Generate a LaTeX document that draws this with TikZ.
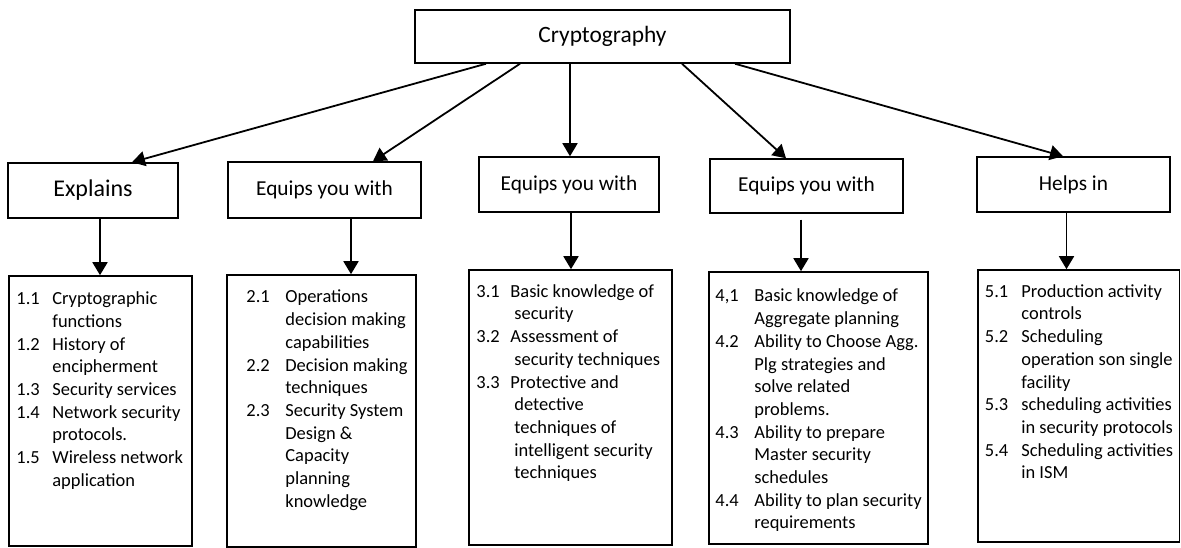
\documentclass[tikz,border=0pt]{standalone}
\usepackage{fontspec}
\setmainfont{Carlito}
\usepackage{tikz}
\usetikzlibrary{arrows.meta,calc}

\newcommand{\listfont}{\fontsize{18.45}{22.7}\selectfont}
\newcommand{\headfont}{\fontsize{21.3}{25}\selectfont}

\begin{document}
\begin{tikzpicture}[
  x=1pt, y=-1pt,
  topic/.style={rectangle, draw, line width=1.5pt, inner sep=0pt, font=\headfont},
  listbox/.style={rectangle, draw, line width=1.6pt, inner sep=0pt},
  listtext/.style={anchor=north west, inner sep=0pt, font=\listfont},
  >={Triangle[length=13pt, width=15pt]}
]
\useasboundingbox (0,0) rectangle (1181,548);

\node[topic, minimum width=375pt, minimum height=53pt, font=\fontsize{23.4}{28}\selectfont] (crypt) at (602.5,36.5) {Cryptography};

\node[topic, minimum width=170pt, minimum height=55pt, font=\fontsize{24}{29}\selectfont] (h1) at (93,190.5) {Explains};
\node[topic, minimum width=193pt, minimum height=56pt] (h2) at (324.5,190)   {Equips you with};
\node[topic, minimum width=180pt, minimum height=55pt] (h3) at (569,184.5)   {Equips you with};
\node[topic, minimum width=193pt, minimum height=54pt] (h4) at (806.5,186)   {Equips you with};
\node[topic, minimum width=193pt, minimum height=55pt] (h5) at (1073.5,184.5) {Helps in};

\node[listbox, minimum width=183pt,   minimum height=270pt] (l1) at (100.5,411)   {};
\node[listbox, minimum width=189pt,   minimum height=272pt] (l2) at (321.5,411)   {};
\node[listbox, minimum width=203pt,   minimum height=275pt] (l3) at (570.5,407.5) {};
\node[listbox, minimum width=219pt,   minimum height=272pt] (l4) at (818.5,408)   {};
\node[listbox, minimum width=201.5pt, minimum height=272pt] (l5) at (1078.75,406) {};

\node[listtext] (t1) at ($(l1.north west)+(8,13.5)$) {\begin{tabular}{@{}p{36pt}@{}l@{}}
1.1 & Cryptographic\\
    & functions\\
1.2 & History of\\
    & encipherment\\
1.3 & Security services\\
1.4 & Network security\\
    & protocols.\\
1.5 & Wireless network\\
    & application
\end{tabular}};
\node[listtext] (t2) at ($(l2.north west)+(20,12.7)$) {\begin{tabular}{@{}p{39pt}@{}l@{}}
2.1 & Operations\\
    & decision making\\
    & capabilities\\
2.2 & Decision making\\
    & techniques\\
2.3 & Security System\\
    & Design \&\\
    & Capacity\\
    & planning\\
    & knowledge
\end{tabular}};
\node[listtext] (t3) at ($(l3.north west)+(8,12)$) {\begin{tabular}{@{}p{34pt}@{}l@{}}
3.1 & Basic knowledge of\\
    & \hspace*{4pt}security\\
3.2 & Assessment of\\
    & \hspace*{4pt}security techniques\\
3.3 & Protective and\\
    & \hspace*{4pt}detective\\
    & \hspace*{4pt}techniques of\\
    & \hspace*{4pt}intelligent security\\
    & \hspace*{4pt}techniques
\end{tabular}};
\node[listtext] (t4) at ($(l4.north west)+(7,14.7)$) {\begin{tabular}{@{}p{39pt}@{}l@{}}
4,1 & Basic knowledge of\\
    & Aggregate planning\\
4.2 & Ability to Choose Agg.\\
    & Plg strategies and\\
    & solve related\\
    & problems.\\
4.3 & Ability to prepare\\
    & Master security\\
    & schedules\\
4.4 & Ability to plan security\\
    & requirements
\end{tabular}};
\node[listtext] (t5) at ($(l5.north west)+(7.5,12)$) {\begin{tabular}{@{}p{36.5pt}@{}l@{}}
5.1 & Production activity\\
    & controls\\
5.2 & Scheduling\\
    & operation son single\\
    & facility\\
5.3 & scheduling activities\\
    & in security protocols\\
5.4 & Scheduling activities\\
    & in ISM
\end{tabular}};

\draw[->, line width=1.8pt] ($(crypt.south)+(-116.5,0)$) -- ($(h1.north)+(39,0)$);
\draw[->, line width=1.8pt] ($(crypt.south)+(-82.5,0)$) -- ($(h2.north)+(48.5,0)$);
\draw[->, line width=1.8pt] ($(crypt.south)+(-32.5,0)$) coordinate (s3) -- (s3 |- h3.north);
\draw[->, line width=1.8pt] ($(crypt.south)+(79.5,0)$) -- ($(h4.north)+(-20.5,0)$);
\draw[->, line width=1.8pt] ($(crypt.south)+(132.5,0)$) -- ($(h5.north)+(-10.5,0)$);

\draw[->, line width=1.8pt] ($(h1.south)+(7,0)$) coordinate (a1) -- (a1 |- l1.north);
\draw[->, line width=1.8pt] ($(h2.south)+(26.5,0)$) coordinate (a2) -- (a2 |- l2.north);
\draw[->, line width=1.8pt] ($(h3.south)+(2,0)$) coordinate (a3) -- (a3 |- l3.north);
\draw[->, line width=1.8pt, shorten <=6pt] ($(h4.south)+(-5.5,0)$) coordinate (a4) -- (a4 |- l4.north);
\draw[->, line width=1.8pt] ($(h5.south)+(-7,0)$) coordinate (a5) -- (a5 |- l5.north);
\end{tikzpicture}
\end{document}
